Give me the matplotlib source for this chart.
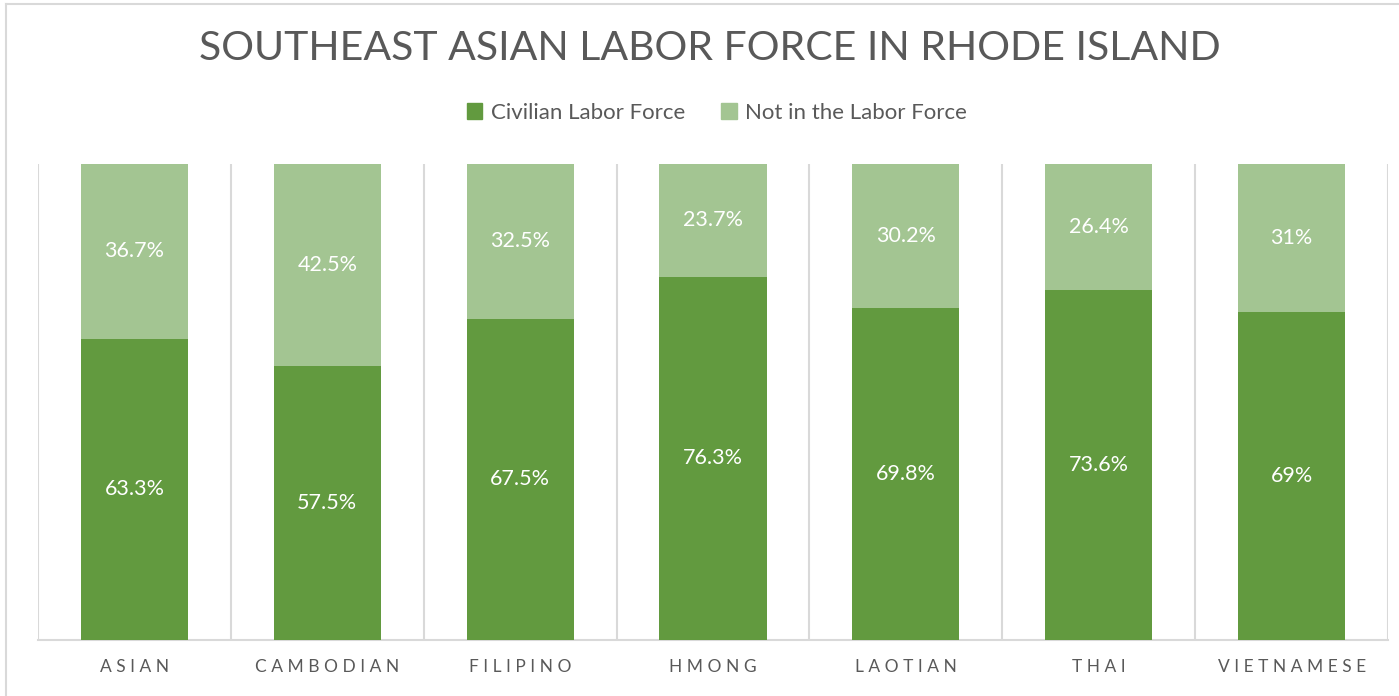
import matplotlib
matplotlib.use("Agg")
import matplotlib.pyplot as plt
from matplotlib.lines import Line2D
from matplotlib.patches import Patch

categories = ["ASIAN", "CAMBODIAN", "FILIPINO", "HMONG", "LAOTIAN", "THAI", "VIETNAMESE"]
civilian = [63.3, 57.5, 67.5, 76.3, 69.8, 73.6, 69.0]
not_in = [36.7, 42.5, 32.5, 23.7, 30.2, 26.4, 31.0]
civ_labels = ["63.3%", "57.5%", "67.5%", "76.3%", "69.8%", "73.6%", "69%"]
not_labels = ["36.7%", "42.5%", "32.5%", "23.7%", "30.2%", "26.4%", "31%"]
series_names = ["Civilian Labor Force", "Not in the Labor Force"]

dark = "#629a3f"
light = "#a3c592"
grid_c = "#d9d9d9"
text_c = "#595959"

plt.rcParams['font.family'] = ['Lato', 'DejaVu Sans']

fig = plt.figure(figsize=(13.99, 6.96), dpi=100)
ax = fig.add_axes([38/1399, 56/696, 1350/1399, 476/696])

x = list(range(len(categories)))
w = 0.555
ax.bar(x, civilian, width=w, color=dark, zorder=3)
ax.bar(x, not_in, width=w, bottom=civilian, color=light, zorder=3)

for i in x:
    ax.text(i, civilian[i] / 2, civ_labels[i], ha="center", va="center",
            color="white", fontsize=15.5, zorder=4)
    ax.text(i, civilian[i] + not_in[i] / 2, not_labels[i], ha="center", va="center",
            color="white", fontsize=15.5, zorder=4)

ax.set_xlim(-0.5, len(categories) - 0.5)
ax.set_ylim(0, 100)
ax.set_yticks([])
ax.set_xticks(x)
ax.set_xticklabels([" ".join(c) for c in categories], color=text_c, fontsize=12.5)
ax.tick_params(axis="x", length=0, pad=14)
ax.set_xticks([i - 0.5 for i in range(len(categories) + 1)], minor=True)
ax.tick_params(axis="x", which="minor", length=0)
ax.grid(axis="x", which="minor", color=grid_c, linewidth=1.5, zorder=0)
ax.grid(axis="x", which="major", visible=False)
for s in ["top", "left", "right"]:
    ax.spines[s].set_visible(False)
ax.spines["bottom"].set_color(grid_c)
ax.spines["bottom"].set_linewidth(1.5)

fig.text(710/1399, 1 - 49/696, "SOUTHEAST ASIAN LABOR FORCE IN RHODE ISLAND",
         ha="center", va="center", color=text_c, fontsize=29.5, fontweight="normal")

handles = [Patch(color=dark), Patch(color=light)]
fig.legend(handles, series_names, loc="center", bbox_to_anchor=(717/1399, 1 - 113/696),
           ncol=2, frameon=False, fontsize=16, labelcolor=text_c,
           handlelength=0.7, handleheight=0.7, handletextpad=0.4, columnspacing=1.6)

fig.add_artist(Line2D([6/1399, 1], [1 - 4/696, 1 - 4/696], color=grid_c, linewidth=1.5, transform=fig.transFigure))
fig.add_artist(Line2D([6/1399, 6/1399], [0, 1 - 4/696], color=grid_c, linewidth=1.5, transform=fig.transFigure))

fig.savefig("out.png", dpi=100)
